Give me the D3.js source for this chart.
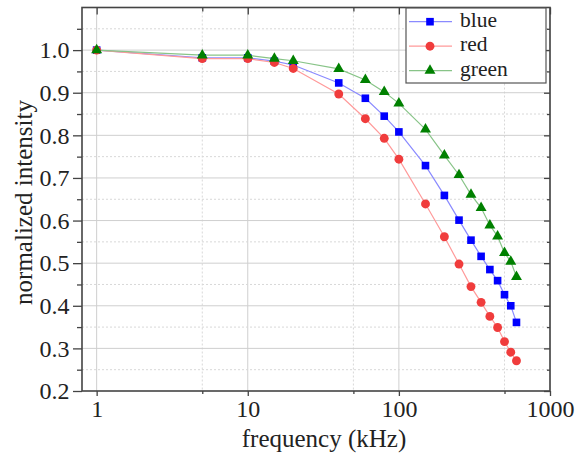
<!DOCTYPE html>
<html><head><meta charset="utf-8">
<script src="https://cdn.jsdelivr.net/npm/d3@7"></script>
<style>html,body{margin:0;padding:0;background:#fff}svg{display:block}</style>
</head><body>
<svg id="c" width="577" height="454"></svg>
<script>
const freq  = [1,5,10,15,20,40,60,80,100,150,200,250,300,350,400,450,500,550,600];
const blue  = [1.0,0.982,0.982,0.974,0.965,0.923,0.887,0.845,0.808,0.729,0.659,0.601,0.554,0.516,0.485,0.459,0.426,0.400,0.361];
const red   = [1.0,0.980,0.980,0.971,0.957,0.897,0.839,0.793,0.744,0.639,0.562,0.498,0.445,0.408,0.375,0.349,0.316,0.291,0.271];
const green = [1.0,0.988,0.988,0.980,0.975,0.956,0.930,0.902,0.875,0.814,0.753,0.707,0.661,0.630,0.589,0.563,0.524,0.504,0.468];
const seriesNames = ["blue","red","green"];
const xTicks = [1,10,100,1000];
const xMinor = [5,50,500];
const yTicks = [0.2,0.3,0.4,0.5,0.6,0.7,0.8,0.9,1.0];
const yMinor = [0.25,0.35,0.45,0.55,0.65,0.75,0.85,0.95,1.05];

const L=82, R=550, T=7.5, B=391;
const svg = d3.select("#c");
const x = d3.scaleLog().domain([0.8,1000]).range([L,R]);
const y = d3.scaleLinear().domain([0.2,1.1]).range([B,T]);
const font = "Liberation Serif";

// gridlines
const g = svg.append("g");
g.selectAll(".vg").data(xTicks).join("line").attr("x1",d=>x(d)).attr("x2",d=>x(d)).attr("y1",T).attr("y2",B).attr("stroke","#cfcfcf").attr("stroke-width",1);
g.selectAll(".vm").data(xMinor).join("line").attr("x1",d=>x(d)).attr("x2",d=>x(d)).attr("y1",T).attr("y2",B).attr("stroke","#d8d8d8").attr("stroke-dasharray","2,2");
g.selectAll(".hg").data(yTicks.slice(1)).join("line").attr("y1",d=>y(d)).attr("y2",d=>y(d)).attr("x1",L).attr("x2",R).attr("stroke","#cfcfcf");
g.selectAll(".hm").data(yMinor).join("line").attr("y1",d=>y(d)).attr("y2",d=>y(d)).attr("x1",L).attr("x2",R).attr("stroke","#d8d8d8").attr("stroke-dasharray","2,2");

// axes
const axCol="#444";
const xb = svg.append("g").attr("transform",`translate(0,${B})`).call(d3.axisBottom(x).tickValues(xTicks).tickFormat(d3.format("d")).tickSize(5));
const xbm = svg.append("g").attr("transform",`translate(0,${B})`).call(d3.axisBottom(x).tickValues(xMinor).tickFormat("").tickSize(3));
const xt = svg.append("g").attr("transform",`translate(0,${T})`).call(d3.axisBottom(x).tickValues(xTicks).tickFormat("").tickSize(7));
const xtm = svg.append("g").attr("transform",`translate(0,${T})`).call(d3.axisBottom(x).tickValues(xMinor).tickFormat("").tickSize(4));
const yl = svg.append("g").attr("transform",`translate(${L},0)`).call(d3.axisLeft(y).tickValues(yTicks).tickFormat(d3.format(".1f")).tickSize(9).tickPadding(3.5));
const ylm = svg.append("g").attr("transform",`translate(${L},0)`).call(d3.axisLeft(y).tickValues(yMinor).tickFormat("").tickSize(5));
const yr = svg.append("g").attr("transform",`translate(${R},0)`).call(d3.axisLeft(y).tickValues(yTicks).tickFormat("").tickSize(6));
const yrm = svg.append("g").attr("transform",`translate(${R},0)`).call(d3.axisLeft(y).tickValues(yMinor).tickFormat("").tickSize(3));
[xb,xbm,xt,xtm,yl,ylm,yr,yrm].forEach(a=>{
  a.attr("font-family",font).attr("font-size",24);
  a.select(".domain").remove();
  a.selectAll("line").attr("stroke",axCol).attr("stroke-width",1.3);
  a.selectAll("text").attr("fill","#222");
});
xb.selectAll("text").attr("y",26).attr("dy",0);
svg.append("rect").attr("x",L).attr("y",T).attr("width",R-L).attr("height",B-T).attr("fill","none").attr("stroke",axCol).attr("stroke-width",1.6);

// data series
const series = [
  {name:"blue", vals:blue, line:"#8a8aff", fill:"#0000ff", sym:d3.symbolSquare, size:58},
  {name:"red", vals:red, line:"#ff9a9a", fill:"#f03c3c", sym:d3.symbolCircle, size:62},
  {name:"green", vals:green, line:"#88c488", fill:"#008000", sym:d3.symbolTriangle, size:52}
];
const lineGen = d3.line();
series.forEach(s=>{
  const pts = freq.map((f,i)=>[x(f),y(s.vals[i])]);
  svg.append("path").attr("d",lineGen(pts)).attr("fill","none").attr("stroke",s.line).attr("stroke-width",1.2);
});
series.forEach(s=>{
  const pts = freq.map((f,i)=>[x(f),y(s.vals[i])]);
  svg.append("g").selectAll("path").data(pts).join("path")
    .attr("transform",d=>`translate(${d[0]},${d[1]})`)
    .attr("d",d3.symbol().type(s.sym).size(s.size)).attr("fill",s.fill);
});

// legend
const lg = svg.append("g");
lg.append("rect").attr("x",406).attr("y",8).attr("width",140).attr("height",75).attr("fill","#fff").attr("stroke","#555").attr("stroke-width",1.2);
series.forEach((s,i)=>{
  const cy = 21.7 + i*24.5;
  lg.append("line").attr("x1",409).attr("x2",452).attr("y1",cy).attr("y2",cy).attr("stroke",s.line).attr("stroke-width",1.2);
  lg.append("path").attr("transform",`translate(430,${cy})`).attr("d",d3.symbol().type(s.sym).size(s.size)).attr("fill",s.fill);
  lg.append("text").attr("x",460).attr("y",cy+5).text(seriesNames[i]).attr("font-family",font).attr("font-size",21.5).attr("fill","#222");
});

// titles
svg.append("text").attr("x",324).attr("y",447).attr("text-anchor","middle").text("frequency (kHz)").attr("font-family",font).attr("font-size",25).attr("fill","#222");
svg.append("text").attr("transform","translate(31.5,202.5) rotate(-90)").attr("text-anchor","middle").text("normalized intensity").attr("font-family",font).attr("font-size",25).attr("fill","#222");
</script>
</body></html>
